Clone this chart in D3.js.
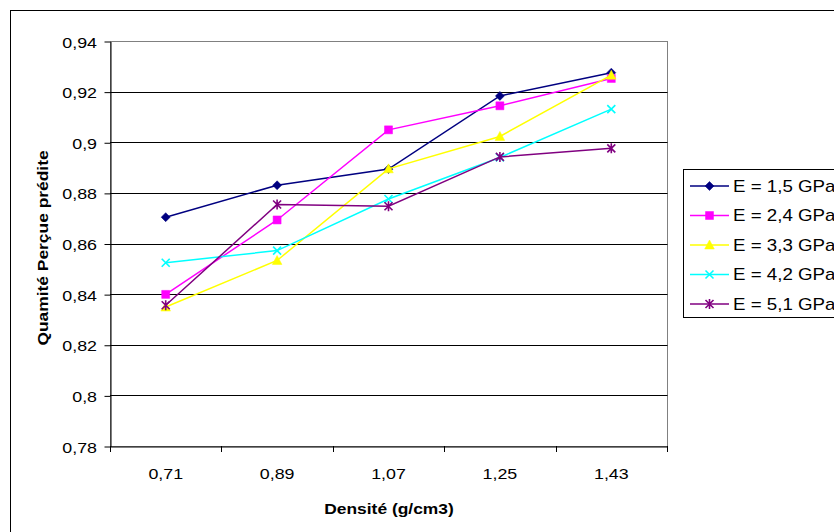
<!DOCTYPE html>
<html>
<head>
<meta charset="utf-8">
<script src="https://cdn.jsdelivr.net/npm/d3@7"></script>
<style>
  html, body { margin: 0; padding: 0; background: #fff; }
  svg { display: block; font-family: "Liberation Sans", Arial, sans-serif; }
</style>
</head>
<body>
<svg id="chart" width="834" height="532"></svg>
<script>
// ---- data ----
const categories = ["0,71", "0,89", "1,07", "1,25", "1,43"];
const seriesNames = ["E = 1,5 GPa", "E = 2,4 GPa", "E = 3,3 GPa", "E = 4,2 GPa", "E = 5,1 GPa"];
const valuesE15 = [0.8704, 0.8830, 0.8894, 0.9183, 0.9275];
const valuesE24 = [0.8399, 0.8693, 0.9049, 0.9144, 0.9252];
const valuesE33 = [0.8349, 0.8533, 0.8895, 0.9023, 0.9265];
const valuesE42 = [0.8524, 0.8572, 0.8776, 0.8940, 0.9131];
const valuesE51 = [0.8356, 0.8754, 0.8747, 0.8942, 0.8976];
const yTicks = [0.78, 0.80, 0.82, 0.84, 0.86, 0.88, 0.90, 0.92, 0.94];
const xTitle = "Densité (g/cm3)";
const yTitle = "Quamité Perçue prédite";

const seriesValues = [valuesE15, valuesE24, valuesE33, valuesE42, valuesE51];
const colors = ["#000080", "#FF00FF", "#FFFF00", "#00FFFF", "#800080"];
const markerTypes = ["diamond", "square", "triangle", "x", "star"];

const SX = 1.15;   // horizontal stretch of the tick text
const FS = 15.5;   // tick label size
const TFS = 15;    // title size
const TSX = 1.16;
const LFS = 16;    // legend size
const LSX = 1.17;

const svg = d3.select("#chart");

// outer chart frame
svg.append("rect").attr("x", 10.5).attr("y", 10.5).attr("width", 900).attr("height", 600)
  .attr("fill", "#fff").attr("stroke", "#000").attr("stroke-width", 1);

const pLeft = 110, pRight = 667, pTop = 41, pBottom = 446;

const x = d3.scaleBand().domain(categories).range([pLeft, pRight]).padding(0);
const y = d3.scaleLinear().domain([0.78, 0.94]).range([pBottom, pTop]);
const cx = c => x(c) + x.bandwidth() / 2;
const fmt = d => String(+d.toFixed(2)).replace(".", ",");

// plot area border (gray)
svg.append("rect").attr("x", pLeft + 0.5).attr("y", pTop + 0.5)
  .attr("width", pRight - pLeft).attr("height", pBottom - pTop)
  .attr("fill", "#fff").attr("stroke", "#808080").attr("stroke-width", 1);

// gridlines
svg.append("g").selectAll("line").data(yTicks.filter(t => t > 0.78 && t < 0.94)).join("line")
  .attr("x1", pLeft).attr("x2", pRight + 0.5)
  .attr("y1", d => Math.round(y(d)) + 0.5).attr("y2", d => Math.round(y(d)) + 0.5)
  .attr("stroke", "#000").attr("stroke-width", 1);

// y axis
const yAxis = svg.append("g").attr("transform", `translate(${pLeft + 0.5},0.5)`)
  .call(d3.axisLeft(y).tickValues(yTicks).tickSize(6).tickSizeOuter(0).tickFormat(fmt));
yAxis.select(".domain").attr("stroke", "#000");
yAxis.selectAll(".tick line").attr("stroke", "#000");
yAxis.selectAll(".tick text")
  .attr("font-family", "Liberation Sans, Arial, sans-serif")
  .attr("font-size", FS).attr("fill", "#000")
  .attr("x", -13.5 / SX).attr("dy", "0.36em")
  .attr("transform", `scale(${SX},1)`);

// x axis
const xAxis = svg.append("g").attr("transform", `translate(0,${pBottom + 0.5})`)
  .call(d3.axisBottom(x).tickSize(0).tickSizeOuter(0));
xAxis.select(".domain").attr("stroke", "#000");
xAxis.selectAll(".tick text")
  .attr("font-family", "Liberation Sans, Arial, sans-serif")
  .attr("font-size", FS).attr("fill", "#000")
  .attr("y", 0).attr("dy", 0)
  .attr("transform", `translate(0,32) scale(${SX},1)`);
// category boundary ticks
const bounds = categories.map(c => x(c)).concat([pRight]);
svg.append("g").selectAll("line").data(bounds).join("line")
  .attr("x1", d => Math.round(d) + 0.5).attr("x2", d => Math.round(d) + 0.5)
  .attr("y1", pBottom).attr("y2", pBottom + 6)
  .attr("stroke", "#000");

// axis titles
svg.append("text")
  .attr("transform", `translate(389,513.5) scale(${TSX},1)`)
  .attr("text-anchor", "middle").attr("font-size", TFS).attr("font-weight", "bold")
  .text(xTitle);
svg.append("text")
  .attr("transform", `translate(48,248) rotate(-90) scale(${TSX},1)`)
  .attr("text-anchor", "middle").attr("font-size", TFS).attr("font-weight", "bold")
  .text(yTitle);

// markers
function markerPath(type) {
  switch (type) {
    case "diamond": return "M0,-4.5L4.5,0L0,4.5L-4.5,0Z";
    case "square": return "M-4,-4H4V4H-4Z";
    case "triangle": return "M0,-5L4.8,4L-4.8,4Z";
    case "x": return "M-4,-4L4,4M-4,4L4,-4";
    case "star": return "M-4,-4L4,4M-4,4L4,-4M0,-5V5";
  }
}
function drawMarker(g, type, color) {
  const filled = type === "diamond" || type === "square" || type === "triangle";
  g.append("path").attr("d", markerPath(type))
    .attr("fill", filled ? color : "none")
    .attr("stroke", color).attr("stroke-width", filled ? 0.5 : 1.6);
}

const line = d3.line().x((d, i) => cx(categories[i])).y(d => y(d));

seriesValues.forEach((vals, si) => {
  const g = svg.append("g");
  g.append("path").datum(vals).attr("d", line)
    .attr("fill", "none").attr("stroke", colors[si]).attr("stroke-width", 1.5);
  vals.forEach((v, i) => {
    const mg = g.append("g").attr("transform", `translate(${cx(categories[i])},${y(v)})`);
    drawMarker(mg, markerTypes[si], colors[si]);
  });
});

// legend
const lgX = 683, lgY = 169;
svg.append("rect").attr("x", lgX + 0.5).attr("y", lgY + 0.5)
  .attr("width", 300).attr("height", 148)
  .attr("fill", "#fff").attr("stroke", "#000");
seriesNames.forEach((name, si) => {
  const yy = lgY + 17 + si * 29.5;
  const g = svg.append("g");
  g.append("line").attr("x1", 690).attr("x2", 729).attr("y1", yy).attr("y2", yy)
    .attr("stroke", colors[si]).attr("stroke-width", 1.5);
  const mg = g.append("g").attr("transform", `translate(709.5,${yy})`);
  drawMarker(mg, markerTypes[si], colors[si]);
  g.append("text")
    .attr("transform", `translate(733,${yy + 5.8}) scale(${LSX},1)`)
    .attr("font-size", LFS).attr("fill", "#000")
    .text(name);
});
</script>
</body>
</html>
